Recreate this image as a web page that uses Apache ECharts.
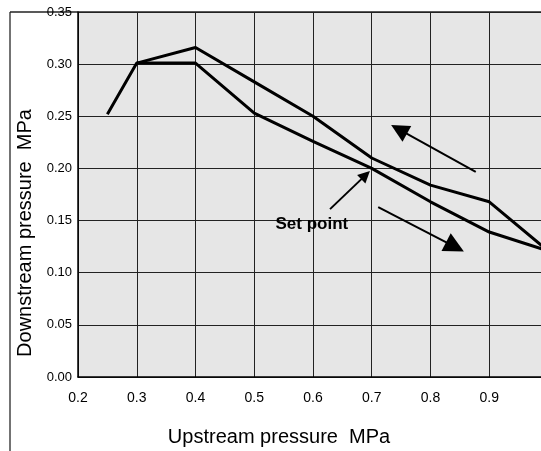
<!DOCTYPE html>
<html>
<head>
<meta charset="utf-8">
<script src="https://cdn.jsdelivr.net/npm/echarts@6/dist/echarts.min.js"></script>
<style>html,body{margin:0;padding:0;background:#fff}#c{width:541px;height:451px}</style>
</head>
<body>
<div id="c"></div>
<script>
// Data
var upX = [0.25, 0.3, 0.4, 0.5, 0.6, 0.7, 0.8, 0.9, 1.0];
var upY = [0.252, 0.301, 0.301, 0.253, 0.226, 0.200, 0.168, 0.139, 0.121];
var downX = [1.0, 0.9, 0.8, 0.7, 0.6, 0.5, 0.4, 0.3];
var downY = [0.121, 0.168, 0.184, 0.210, 0.250, 0.283, 0.316, 0.301];
var xTickLabels = ['0.2', '0.3', '0.4', '0.5', '0.6', '0.7', '0.8', '0.9', '1'];
var yTickLabels = ['0.00', '0.05', '0.10', '0.15', '0.20', '0.25', '0.30', '0.35'];
// annotation arrows: [fromX, fromY, toX, toY]
var arrowDecrease = [0.877, 0.1966, 0.7464, 0.2374];
var arrowIncrease = [0.711, 0.163, 0.8417, 0.1248];
var arrowSetPoint = [0.629, 0.161, 0.6895, 0.1936];
var setPointLabel = [0.598, 0.1467];

function pairs(xs, ys) { return xs.map(function (x, i) { return [x, ys[i]]; }); }

var chart = echarts.init(document.getElementById('c'));
var lineStyle = { color: '#000', width: 3 };
function arrow(a, size) {
  return {
    type: 'lines', coordinateSystem: 'cartesian2d', silent: true,
    symbol: ['none', 'triangle'], symbolSize: size,
    lineStyle: { color: '#000', width: 2, opacity: 1 },
    itemStyle: { color: '#000' },
    data: [{ coords: [[a[0], a[1]], [a[2], a[3]]] }], z: 5
  };
}
chart.setOption({
  animation: false,
  grid: { left: 78, top: 12, width: 470, height: 365, backgroundColor: '#e6e6e6', show: true, borderWidth: 0, containLabel: false, outerBoundsMode: 'none' },
  xAxis: {
    type: 'value', min: 0.2, max: 1.0, interval: 0.1,
    axisLine: { show: true, lineStyle: { color: '#000', width: 1.5 } },
    axisTick: { show: false },
    splitLine: { show: true, lineStyle: { color: '#222', width: 1 } },
    axisLabel: {
      color: '#000', fontSize: 14, fontFamily: 'Liberation Sans', margin: 14,
      formatter: function (v) { return xTickLabels[Math.round((v - 0.2) * 10)]; }
    }
  },
  yAxis: {
    type: 'value', min: 0, max: 0.35, interval: 0.05,
    axisLine: { show: true, lineStyle: { color: '#000', width: 1.5 } },
    axisTick: { show: false },
    splitLine: { show: true, lineStyle: { color: '#222', width: 1 } },
    axisLabel: {
      color: '#000', fontSize: 13, fontFamily: 'Liberation Sans', margin: 6,
      formatter: function (v) { return yTickLabels[Math.round(v * 20)]; }
    }
  },
  graphic: [
    { type: 'line', shape: { x1: 10, y1: 12, x2: 10, y2: 451 }, style: { stroke: '#444', lineWidth: 1.5 } },
    { type: 'line', shape: { x1: 10, y1: 12, x2: 541, y2: 12 }, style: { stroke: '#222', lineWidth: 1.5 } },
    { type: 'text', x: 279, y: 437, style: { text: 'Upstream pressure  MPa', fill: '#000', font: '20px "Liberation Sans"', textAlign: 'center', textVerticalAlign: 'middle' } },
    { type: 'text', x: 25, y: 233, rotation: Math.PI / 2, style: { text: 'Downstream pressure  MPa', fill: '#000', font: '20px "Liberation Sans"', textAlign: 'center', textVerticalAlign: 'middle' } }
  ],
  series: [
    { type: 'line', data: pairs(upX, upY), symbol: 'none', lineStyle: lineStyle, z: 4 },
    { type: 'line', data: pairs(downX, downY), symbol: 'none', lineStyle: lineStyle, z: 4 },
    arrow(arrowDecrease, [0, 18]),
    arrow(arrowIncrease, [0, 20]),
    arrow(arrowSetPoint, [0, 12]),
    {
      type: 'scatter', data: [setPointLabel], symbolSize: 0, silent: true,
      itemStyle: { opacity: 1 },
      label: { show: true, position: 'inside', formatter: 'Set point', color: '#000', fontSize: 17, fontWeight: 'bold', fontFamily: 'Liberation Sans' }
    }
  ]
});
</script>
</body>
</html>
